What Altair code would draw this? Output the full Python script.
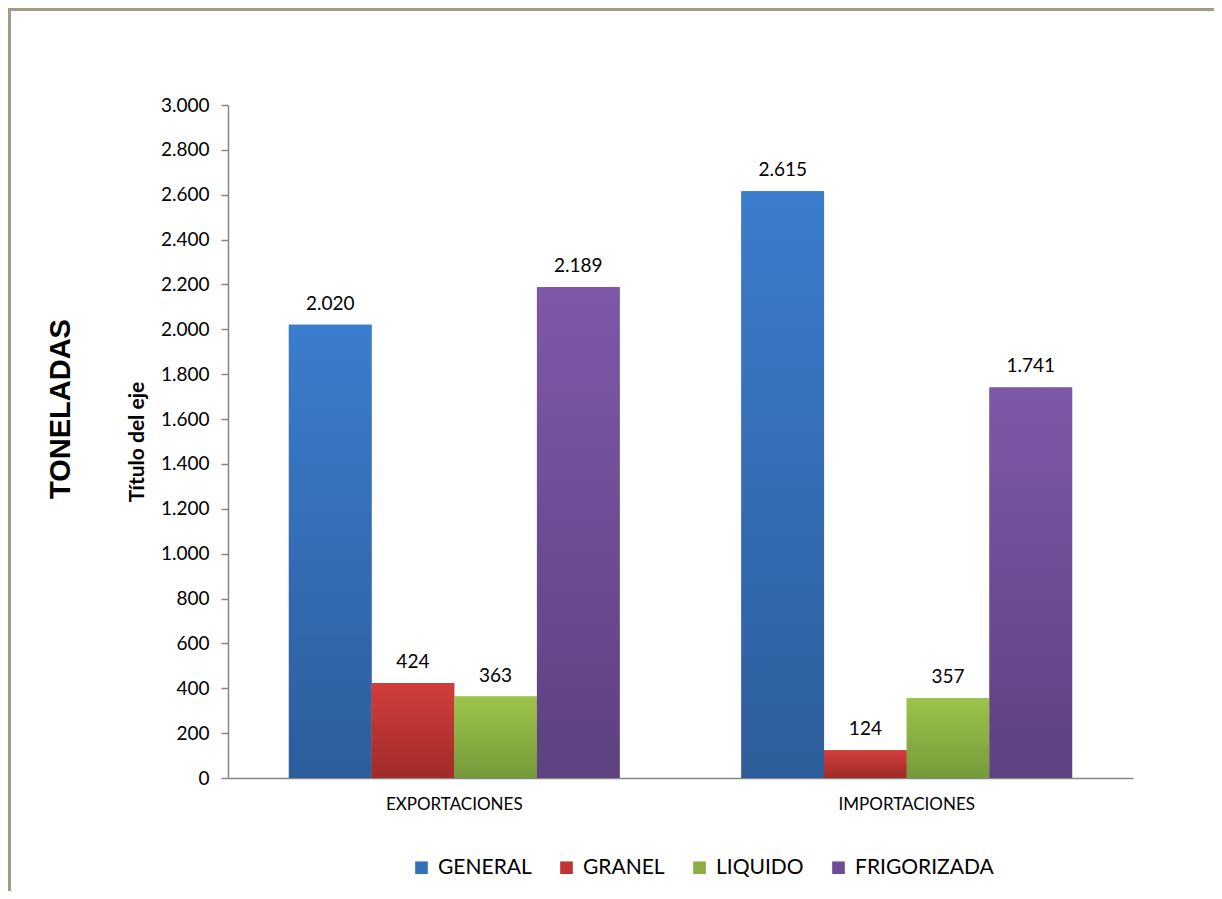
import altair as alt
import pandas as pd

flows = ["EXPORTACIONES", "IMPORTACIONES"]
series = ["GENERAL", "GRANEL", "LIQUIDO", "FRIGORIZADA"]
export_values = [2020, 424, 363, 2189]
import_values = [2615, 124, 357, 1741]
y_ticks = list(range(0, 3001, 200))

top_colors = ["#3B7DCD", "#D23E3B", "#9DC44B", "#7E58A9"]
bottom_colors = ["#2D5D9B", "#A02B29", "#76993A", "#5D4180"]
mid_colors = ["#3470B8", "#BE3533", "#8AAE42", "#6E4D96"]

rows = []
for f, vals in zip(flows, [export_values, import_values]):
    for s, v in zip(series, vals):
        rows.append({"flow": f, "series": s, "value": v})
df = pd.DataFrame(rows)


def grad(top, bottom):
    return {
        "gradient": "linear",
        "x1": 0, "x2": 0, "y1": 0, "y2": 1,
        "stops": [{"offset": 0, "color": top}, {"offset": 1, "color": bottom}],
    }


grads = [grad(t, b) for t, b in zip(top_colors, bottom_colors)]

W, H = 905, 673
PAD = {"left": 220, "top": 97, "right": 81, "bottom": 113}

base = alt.Chart(df).encode(
    x=alt.X(
        "flow:N",
        sort=flows,
        scale=alt.Scale(paddingInner=0.269, paddingOuter=0.1345),
        axis=alt.Axis(
            title=None, ticks=False, labelAngle=0, labelPadding=18,
            labelFont="Lato", labelFontSize=17, labelColor="#000000",
            domainColor="#868686", domainWidth=1.5,
        ),
    ),
    xOffset=alt.XOffset("series:N", sort=series,
                        scale=alt.Scale(paddingInner=0, paddingOuter=0)),
    y=alt.Y(
        "value:Q",
        scale=alt.Scale(domain=[0, 3000], nice=False),
        axis=alt.Axis(
            values=y_ticks,
            labelExpr="replace(format(datum.value, ','), ',', '.')",
            grid=False,
            title="Título del eje",
            titleFont="Lato", titleFontSize=21, titleFontWeight="bold",
            titleColor="#000000",
            titleX=-91, titleY=336.5, titleAngle=270,
            titleAlign="center", titleBaseline="middle",
            labelFont="Lato", labelFontSize=19, labelColor="#000000",
            labelPadding=12,
            domainColor="#868686", domainWidth=1.5,
            tickColor="#868686", tickSize=7, tickWidth=1.5,
        ),
    ),
)

legend_bars = base.mark_bar().encode(
    color=alt.Color(
        "series:N",
        sort=series,
        scale=alt.Scale(domain=series, range=mid_colors),
        legend=alt.Legend(
            orient="none", legendX=183, legendY=752, direction="horizontal",
            title=None, symbolType="square", symbolSize=160,
            symbolStrokeWidth=0, labelFont="Lato", labelFontSize=21,
            labelColor="#000000", labelOffset=6, columnPadding=24, padding=0,
        ),
    )
)

conds = [{"test": f"datum.series === '{s}'", "value": g}
         for s, g in zip(series[:-1], grads[:-1])]
grad_bars = base.mark_bar().encode(
    color=alt.value(grads[-1], condition=conds)
)

labels = base.transform_calculate(
    label="replace(format(datum.value, ','), ',', '.')"
).mark_text(
    dy=-15, baseline="alphabetic", font="Lato", fontSize=19, color="#000000"
).encode(text="label:N")

one = pd.DataFrame({"k": [0]})
frame_top = alt.Chart(one).mark_rule(color="#A39B84", strokeWidth=3).encode(
    x=alt.value(-220), x2=alt.value(W + PAD["right"] + 5), y=alt.value(-95.5)
)
frame_left = alt.Chart(one).mark_rule(color="#A39B84", strokeWidth=3).encode(
    x=alt.value(-218.5), y=alt.value(-97), y2=alt.value(H + PAD["bottom"] + 5)
)
side_title = alt.Chart(pd.DataFrame({"t": ["TONELADAS"]})).mark_text(
    font="Liberation Sans", fontSize=29, fontWeight="bold", angle=270,
    align="center", baseline="middle", color="#000000"
).encode(text="t:N", x=alt.value(-167), y=alt.value(304))

chart = alt.layer(
    legend_bars, grad_bars, labels, frame_top, frame_left, side_title
).properties(
    width=W, height=H,
    autosize=alt.AutoSizeParams(type="none"),
    padding=PAD,
).configure(background="#FFFFFF").configure_view(stroke=None)

chart.save("out.html", embed_options={"renderer": "svg", "actions": False})
